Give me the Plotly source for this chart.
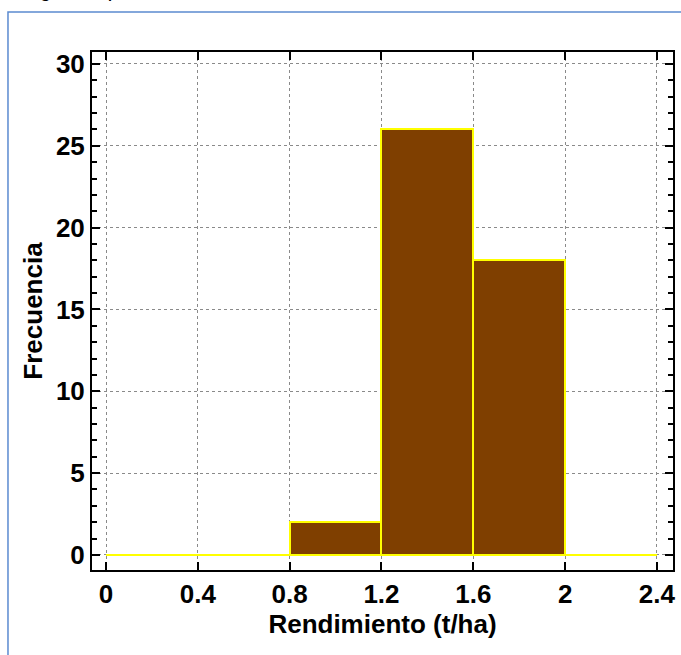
import plotly.graph_objects as go

bin_edges = [0.0, 0.4, 0.8, 1.2, 1.6, 2.0, 2.4]
counts = [0, 0, 2, 26, 18, 0]
x_ticks = [0, 0.4, 0.8, 1.2, 1.6, 2, 2.4]
x_tick_labels = ["0", "0.4", "0.8", "1.2", "1.6", "2", "2.4"]
y_ticks = [0, 5, 10, 15, 20, 25, 30]

centers = [(a + b) / 2 for a, b in zip(bin_edges[:-1], bin_edges[1:])]
widths = [b - a for a, b in zip(bin_edges[:-1], bin_edges[1:])]

fig = go.Figure()
fig.add_trace(go.Bar(
    x=centers, y=counts, width=widths,
    marker=dict(color="#7F3F00", line=dict(color="#FFFF00", width=2)),
    showlegend=False, hoverinfo="skip",
))

# zero-count bins are drawn as a flat outline at their height
zx, zy = [], []
for i, c in enumerate(counts):
    if c == 0:
        zx += [bin_edges[i], bin_edges[i + 1], None]
        zy += [c, c, None]
fig.add_trace(go.Scatter(x=zx, y=zy, mode="lines",
                         line=dict(color="#FFFF00", width=2),
                         showlegend=False, hoverinfo="skip"))

FAM = "Liberation Sans, Arial, sans-serif"
FS = 26
tickfont = dict(family=FAM, size=FS, color="black", weight="bold")

fig.update_layout(
    width=681, height=655,
    margin=dict(l=92, r=8, t=52, b=85),
    paper_bgcolor="white", plot_bgcolor="white",
    font=dict(family=FAM, size=FS, color="black"),
    bargap=0,
    xaxis=dict(
        range=[-0.061, 2.47], automargin=False,
        tickvals=x_ticks, ticktext=x_tick_labels,
        ticks="inside", ticklen=8, tickwidth=2, tickcolor="black",
        showline=True, linecolor="black", linewidth=2, mirror="allticks",
        showgrid=True, gridcolor="#8a8a8a", griddash="dot", gridwidth=1,
        zeroline=False, tickfont=tickfont,
        title=dict(text="<b>Rendimiento (t/ha)</b>", font=dict(family=FAM, size=FS), standoff=7),
    ),
    yaxis=dict(
        range=[-0.92, 30.73], automargin=False,
        tickvals=y_ticks,
        ticks="inside", ticklen=8, tickwidth=2, tickcolor="black",
        minor=dict(ticks="inside", dtick=1, ticklen=5, tickwidth=2, tickcolor="black", showgrid=False),
        showline=True, linecolor="black", linewidth=2, mirror="allticks",
        showgrid=True, gridcolor="#8a8a8a", griddash="dot", gridwidth=1,
        zeroline=False, tickfont=tickfont,
        title=dict(text="<b>Frecuencia</b>", font=dict(family=FAM, size=FS), standoff=6),
    ),
    shapes=[dict(type="rect", xref="paper", yref="paper",
                 x0=-0.1446, x1=1.2, y0=-0.3, y1=1.077,
                 line=dict(color="#5B8BD0", width=1.5), layer="below")],
    annotations=[dict(text="<i>Histograma para Rendimiento</i>", xref="paper", yref="paper",
                      x=-0.177, y=1.094, xanchor="left", yanchor="bottom", showarrow=False,
                      font=dict(family=FAM, size=22, color="black"))],
)

fig.write_html("out.html", config={"displayModeBar": False},
               post_script="document.body.style.margin='0';document.body.style.overflow='hidden';")
